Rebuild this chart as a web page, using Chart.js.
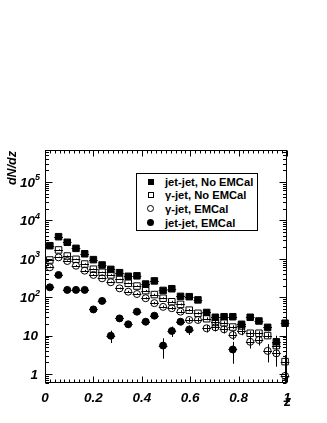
<!DOCTYPE html>
<html>
<head>
<meta charset="utf-8">
<title>dN/dz</title>
<script src="https://cdn.jsdelivr.net/npm/chart.js@4/dist/chart.umd.min.js"></script>
<style>
    body { margin: 0; background: #fff; }
    #wrap { position: relative; width: 327px; height: 423px; }
    #legend {
        position: absolute; left: 136px; top: 173px; width: 120px; height: 56px;
        border: 1px solid #000; background: #fff;
        font: bold 11.2px "Liberation Sans", Arial, sans-serif; color: #000;
    }
    .row { position: absolute; left: 0; width: 100%; height: 12px; line-height: 12px; }
    .row span.txt { position: absolute; left: 28px; top: 0; white-space: nowrap; }
    .mk { position: absolute; left: 11px; top: 3px; width: 6px; height: 6px; box-sizing: border-box; }
    .mk.fsq { background: #000; }
    .mk.osq { border: 1px solid #000; }
    .mk.oci { border: 1px solid #000; border-radius: 50%; width: 7px; height: 7px; left: 10px; top: 2px; }
    .mk.fci { background: #000; border-radius: 50%; width: 7px; height: 7px; left: 10px; top: 2px; }
</style>
</head>
<body>
<div id="wrap">
    <canvas id="chart" width="327" height="423"></canvas>
    <div id="legend"></div>
</div>
<script>
// z bin centres
const zBins = [0.02, 0.056, 0.092, 0.128, 0.164, 0.2, 0.236, 0.272, 0.308, 0.344,
    0.38, 0.416, 0.452, 0.488, 0.524, 0.56, 0.596, 0.632, 0.668, 0.704,
    0.74, 0.776, 0.812, 0.848, 0.884, 0.92, 0.956, 0.992];
const halfBin = 0.018;

// dN/dz per series (null = no point)
const jetJetNoEmcal = [2190, 3760, 2690, 1870, 1350, 950, 690, 530, 435, 350,
    360, 220, 265, 150, 166, 105, 103, 85, 40, 30,
    31, 31, 19.7, 30, 24, 16.4, 6.9, 21];
const jetJetNoEmcalErr = [110, 190, 135, 95, 70, 50, 35, 28, 22, 20,
    20, 13, 15, 10, 11, 8, 8, 7, 5, 4.5,
    4.5, 4.5, 3.5, 4.5, 4, 3.5, 3, 4];

const gammaJetNoEmcal = [930, 1700, 1180, 970, 730, 535, 445, 380, 290, 230,
    195, 148, 117, 94, 76, 65, 46, 38, 27.5, 22,
    21.5, 16.7, 17.8, 11.5, 11.5, 10, 5.5, 2.1];
const gammaJetNoEmcalErr = [40, 60, 45, 38, 30, 22, 18, 15, 12, 10,
    9, 7, 6, 5, 4.5, 4, 3.2, 2.8, 2.4, 2.1,
    2.1, 1.8, 1.9, 1.5, 1.5, 1.4, 1.5, 1.0];

const gammaJetEmcal = [600, 1090, 875, 660, 490, 380, 310, 245, 170, 139,
    121, 94, 70, 56, 51.6, 42, 25.5, 25.5, 15.5, 16.4,
    14.6, 10.4, 13.2, 6.9, 7.7, 4.0, 3.45, 0.89];
const gammaJetEmcalErr = [30, 45, 38, 30, 23, 18, 15, 12, 9, 8,
    7, 6, 5, 4.5, 4.5, 4, 3.5, 3.5, 3.5, 3.5,
    3.2, 2.7, 3, 2.3, 2.2, 2.0, 1.9, 0.3];

const jetJetEmcal = [181, 379, 155, 155, 155, 48, 80, 9.9, 28, 19.7,
    42, 23, 33, 5.5, 13.2, 23, 14.4, null, null, null,
    null, 4.35, null, null, null, null, null, null];
const jetJetEmcalErr = [15, 25, 13, 13, 13, 7, 9, 3.5, 5, 4,
    6, 4.5, 5, 3, 4, 4.5, 4, null, null, null,
    null, 2.5, null, null, null, null, null, null];

// axis labels
const xTickValues = [0, 0.2, 0.4, 0.6, 0.8, 1];
const xTickLabels = ['0', '0.2', '0.4', '0.6', '0.8', '1'];
const yTickValues = [1, 10, 100, 1000, 10000, 100000];
const yTickLabels = ['1', '10', '10^2', '10^3', '10^4', '10^5'];

const legendLabels = ['jet-jet, No EMCal', '\u03b3-jet, No EMCal', '\u03b3-jet, EMCal', 'jet-jet, EMCal'];
const legendMarkers = ['fsq', 'osq', 'oci', 'fci'];

const FONT = '"Liberation Sans", Arial, sans-serif';

function makePoints(values, errors) {
    const pts = [];
    zBins.forEach((z, i) => {
        if (values[i] != null) pts.push({ x: z, y: values[i], err: errors[i] });
    });
    return pts;
}

function series(label, values, errors, shape, filled) {
    const r = shape === 'rect' ? 4.6 : 3.5;
    return {
        label: label,
        data: makePoints(values, errors),
        showLine: false,
        pointStyle: shape,
        pointRadius: r,
        pointHoverRadius: r,
        borderColor: '#000',
        borderWidth: 1,
        backgroundColor: filled ? '#000' : 'rgba(0,0,0,0)',
        clip: false
    };
}

// error bars under the markers (hollow markers show them through)
const errorBars = {
    id: 'errorBars',
    beforeDatasetsDraw(chart) {
        const ctx = chart.ctx;
        const xs = chart.scales.x, ys = chart.scales.y;
        ctx.save();
        ctx.strokeStyle = '#000';
        ctx.lineWidth = 1;
        chart.data.datasets.forEach(ds => {
            ds.data.forEach(p => {
                const px = Math.round(xs.getPixelForValue(p.x)) + 0.5;
                const py = Math.round(ys.getPixelForValue(p.y)) + 0.5;
                const lo = Math.max(p.y - p.err, ys.min);
                const hi = p.y + p.err;
                ctx.beginPath();
                ctx.moveTo(px, ys.getPixelForValue(lo));
                ctx.lineTo(px, ys.getPixelForValue(hi));
                ctx.moveTo(xs.getPixelForValue(p.x - halfBin), py);
                ctx.lineTo(xs.getPixelForValue(p.x + halfBin), py);
                ctx.stroke();
            });
        });
        ctx.restore();
    }
};

// ROOT-like frame, inward ticks on all sides, labels and titles
const frameAxes = {
    id: 'frameAxes',
    afterDraw(chart) {
        const ctx = chart.ctx;
        const a = chart.chartArea;
        const xs = chart.scales.x, ys = chart.scales.y;
        const L = Math.round(a.left) + 0.5, R = Math.round(a.right) - 0.5;
        const T = Math.round(a.top) + 0.5, B = Math.round(a.bottom) - 0.5;
        ctx.save();
        ctx.strokeStyle = '#000';
        ctx.lineWidth = 1;
        ctx.strokeRect(L, T, R - L, B - T);

        ctx.beginPath();
        for (let i = 0; i <= 50; i++) {
            const px = Math.round(xs.getPixelForValue(i / 50)) + 0.5;
            const len = i % 10 === 0 ? 6 : 3;
            ctx.moveTo(px, B); ctx.lineTo(px, B - len);
            ctx.moveTo(px, T); ctx.lineTo(px, T + len);
        }
        for (let d = -1; d <= 6; d++) {
            for (let m = 1; m <= 9; m++) {
                const v = m * Math.pow(10, d);
                if (v < ys.min || v > ys.max) continue;
                const py = Math.round(ys.getPixelForValue(v)) + 0.5;
                const len = m === 1 ? 7 : 3.5;
                ctx.moveTo(L, py); ctx.lineTo(L + len, py);
                ctx.moveTo(R, py); ctx.lineTo(R - len, py);
            }
        }
        ctx.stroke();

        ctx.fillStyle = '#000';
        ctx.font = 'italic bold 13.5px ' + FONT;
        ctx.textAlign = 'center';
        ctx.textBaseline = 'alphabetic';
        xTickValues.forEach((v, i) => {
            ctx.fillText(xTickLabels[i], xs.getPixelForValue(v), a.bottom + 18.5);
        });

        ctx.textBaseline = 'middle';
        yTickValues.forEach((v, i) => {
            const py = ys.getPixelForValue(v) + 1;
            const parts = yTickLabels[i].split('^');
            const right = a.left - 5;
            if (parts.length === 2) {
                ctx.font = 'italic bold 9px ' + FONT;
                const sw = ctx.measureText(parts[1]).width;
                ctx.textAlign = 'right';
                ctx.fillText(parts[1], right, py - 5);
                ctx.font = 'italic bold 13.5px ' + FONT;
                ctx.fillText(parts[0], right - sw, py);
            } else {
                ctx.font = 'italic bold 13.5px ' + FONT;
                ctx.textAlign = 'right';
                ctx.fillText(parts[0], right - 2, py);
            }
        });

        // axis titles
        ctx.font = 'italic bold 14px ' + FONT;
        ctx.textAlign = 'right';
        ctx.textBaseline = 'alphabetic';
        ctx.fillText('z', a.right + 4, a.bottom + 23);

        ctx.save();
        ctx.translate(16, a.top + 1);
        ctx.rotate(-Math.PI / 2);
        ctx.font = 'italic bold 12.5px ' + FONT;
        ctx.textAlign = 'right';
        ctx.fillText('dN/dz', 0, 0);
        ctx.restore();

        ctx.restore();
    }
};

function buildLegend() {
    const box = document.getElementById('legend');
    const rowTops = [1.7, 15, 29, 43.3];
    box.innerHTML = legendLabels.map((t, i) => `
        <div class="row" style="top:${rowTops[i]}px">
            <span class="mk ${legendMarkers[i]}"></span>
            <span class="txt">${t}</span>
        </div>`).join('');
}

new Chart(document.getElementById('chart').getContext('2d'), {
    type: 'scatter',
    data: {
        datasets: [
            series(legendLabels[0], jetJetNoEmcal, jetJetNoEmcalErr, 'rect', true),
            series(legendLabels[1], gammaJetNoEmcal, gammaJetNoEmcalErr, 'rect', false),
            series(legendLabels[2], gammaJetEmcal, gammaJetEmcalErr, 'circle', false),
            series(legendLabels[3], jetJetEmcal, jetJetEmcalErr, 'circle', true)
        ]
    },
    options: {
        responsive: false,
        animation: false,
        devicePixelRatio: 1,
        layout: { padding: { left: 45, right: 40, top: 150, bottom: 40 } },
        plugins: { legend: { display: false }, tooltip: { enabled: false } },
        scales: {
            x: { type: 'linear', min: 0, max: 1, display: false },
            y: { type: 'logarithmic', min: 0.583, max: 680000, display: false }
        }
    },
    plugins: [errorBars, frameAxes]
});

buildLegend();
</script>
</body>
</html>
